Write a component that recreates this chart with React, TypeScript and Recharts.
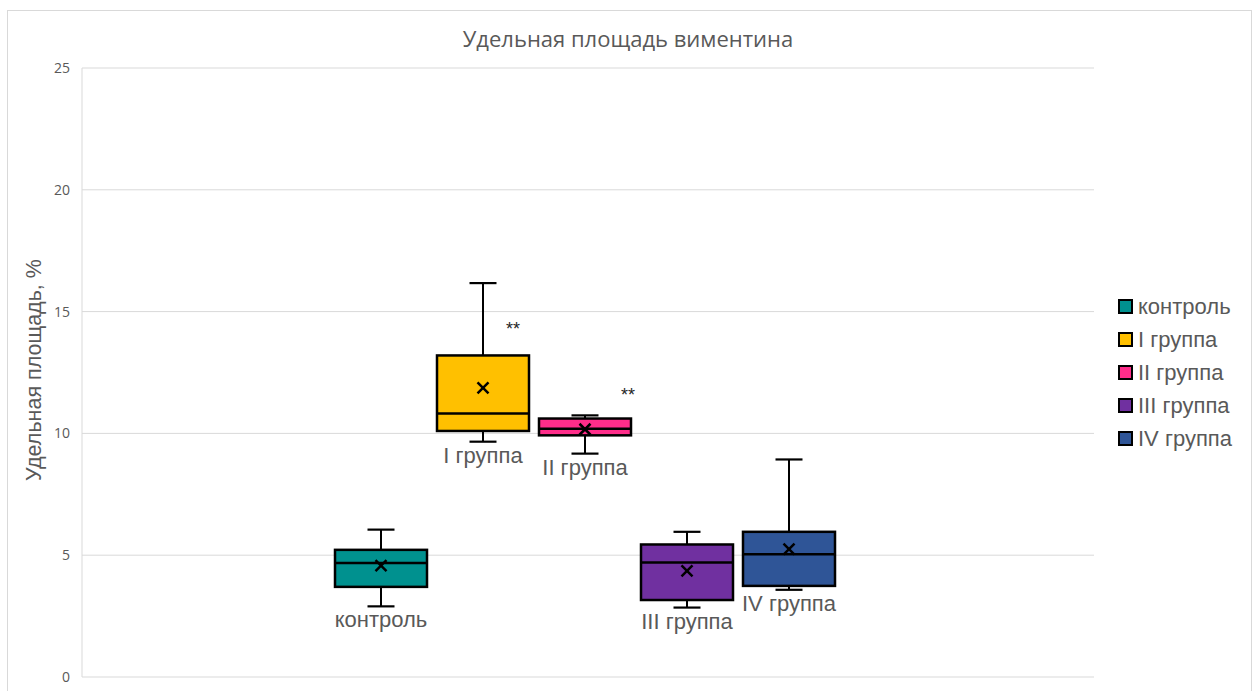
import React from 'react';
import { ComposedChart, Bar, XAxis, YAxis, CartesianGrid } from 'recharts';

// ---- data ----
const seriesNames = ['контроль', 'I группа', 'II группа', 'III группа', 'IV группа'];
const whiskerLow = [2.9, 9.66, 9.17, 2.85, 3.58];
const q1 = [3.7, 10.1, 9.92, 3.16, 3.74];
const median = [4.68, 10.82, 10.19, 4.7, 5.04];
const q3 = [5.22, 13.2, 10.61, 5.44, 5.96];
const whiskerHigh = [6.05, 16.17, 10.74, 5.96, 8.93];
const mean = [4.57, 11.87, 10.17, 4.36, 5.25];
const significance = ['', '**', '**', '', ''];
const significanceY = [null, 14.3, 11.56, null, null];
const yTicks = [0, 5, 10, 15, 20, 25];

// ---- styles ----
const colors = ['#00918F', '#FFC000', '#FF2D8A', '#7030A0', '#2F5597'];
const starDx = [0, 30, 43, 0, 0];
const GRAY = '#595959';
const GRID = '#d9d9d9';
const LABEL_FONT = '"Liberation Sans", Arial, sans-serif';
const AXIS_FONT = '"Open Sans", "Noto Sans", sans-serif';

const keys = seriesNames.map((_, i) => 's' + i);
const row: any = { name: 'all' };
keys.forEach((k, i) => {
  row[k] = [whiskerLow[i], whiskerHigh[i]];
});
const data = [row];

const makeShape = (i: number) => (props: any) => {
  const { x, y, width, height } = props;
  if (x == null || y == null) return null;
  const top = Math.min(y, y + height);
  const h = Math.abs(height);
  const lo = whiskerLow[i];
  const hi = whiskerHigh[i];
  const px = (v: number) => top + (h * (hi - v)) / (hi - lo);
  const cx = x + width / 2;
  const capW = 27;
  const yq1 = px(q1[i]);
  const yq3 = px(q3[i]);
  const ymed = px(median[i]);
  const ymean = px(mean[i]);
  const ylo = px(lo);
  const yhi = px(hi);
  const m = 5.5;
  const sy = significanceY[i];
  return (
    <g>
      <line x1={cx} x2={cx} y1={yhi} y2={yq3} stroke="#000" strokeWidth={2} />
      <line x1={cx} x2={cx} y1={yq1} y2={ylo} stroke="#000" strokeWidth={2} />
      <line x1={cx - capW / 2} x2={cx + capW / 2} y1={yhi} y2={yhi} stroke="#000" strokeWidth={2.2} />
      <line x1={cx - capW / 2} x2={cx + capW / 2} y1={ylo} y2={ylo} stroke="#000" strokeWidth={2.2} />
      <rect x={x} y={yq3} width={width} height={yq1 - yq3} fill={colors[i]} stroke="#000" strokeWidth={2.5} />
      <line x1={x} x2={x + width} y1={ymed} y2={ymed} stroke="#000" strokeWidth={2.5} />
      <line x1={cx - m} x2={cx + m} y1={ymean - m} y2={ymean + m} stroke="#000" strokeWidth={2.5} />
      <line x1={cx - m} x2={cx + m} y1={ymean + m} y2={ymean - m} stroke="#000" strokeWidth={2.5} />
      <text x={cx} y={ylo + 21} textAnchor="middle" fontFamily={LABEL_FONT} fontSize={22} fill={GRAY}>
        {seriesNames[i]}
      </text>
      {sy != null && significance[i] ? (
        <text
          x={cx + starDx[i]}
          y={px(sy)}
          textAnchor="middle"
          dominantBaseline="central"
          fontFamily={LABEL_FONT}
          fontSize={18}
          fill="#262626"
        >
          {significance[i]}
        </text>
      ) : null}
    </g>
  );
};

const YLabel = () => (
  <text
    x={34}
    y={370}
    transform="rotate(-90 34 370)"
    textAnchor="middle"
    dominantBaseline="central"
    fontFamily={LABEL_FONT}
    fontSize={21.5}
    fill={GRAY}
  >
    Удельная площадь, %
  </text>
);

const LegendBox = () => (
  <div
    style={{
      position: 'absolute',
      left: 1118,
      top: 290,
      fontFamily: LABEL_FONT,
      fontSize: 22,
      color: GRAY,
    }}
  >
    {seriesNames.map((n, idx) => (
      <div key={n} style={{ display: 'flex', alignItems: 'center', height: 33 }}>
        <span
          style={{
            display: 'inline-block',
            width: 11,
            height: 11,
            background: colors[idx],
            border: '2px solid #000',
            marginRight: 5,
          }}
        />
        <span style={{ lineHeight: '33px', whiteSpace: 'nowrap' }}>{n}</span>
      </div>
    ))}
  </div>
);

export default function App() {
  return (
    <div style={{ position: 'absolute', left: 0, top: 0, width: 1253, height: 691, background: '#fff' }}>
      <div
        style={{
          position: 'absolute',
          left: 7,
          top: 10,
          width: 1245,
          height: 700,
          border: `1px solid ${GRID}`,
          boxSizing: 'border-box',
        }}
      />
      <div
        style={{
          position: 'absolute',
          left: 0,
          top: 23,
          width: 1256,
          textAlign: 'center',
          fontFamily: AXIS_FONT,
          fontSize: 22,
          color: GRAY,
          lineHeight: '30px',
        }}
      >
        Удельная площадь виментина
      </div>
      <div style={{ position: 'absolute', left: 0, top: 0 }}>
        <ComposedChart
          width={1253}
          height={691}
          data={data}
          margin={{ top: 68, right: 159, bottom: 14, left: 0 }}
          barGap={10}
        >
          <CartesianGrid horizontal vertical={false} stroke={GRID} strokeWidth={1} />
          <XAxis
            dataKey="name"
            tick={false}
            tickLine={false}
            axisLine={{ stroke: GRID }}
            height={0}
            padding={{ left: 0, right: 6 }}
          />
          <YAxis
            domain={[0, 25]}
            ticks={yTicks}
            width={82}
            axisLine={{ stroke: GRID }}
            tickLine={false}
            tickSize={6}
            tickMargin={6}
            tick={{ fontSize: 14, fill: GRAY, fontFamily: AXIS_FONT }}
            label={<YLabel />}
          />
          {keys.map((k, i) => (
            <Bar
              key={k}
              dataKey={k}
              name={seriesNames[i]}
              fill={colors[i]}
              barSize={92}
              shape={makeShape(i)}
              isAnimationActive={false}
            />
          ))}
        </ComposedChart>
      </div>
      <LegendBox />
    </div>
  );
}
